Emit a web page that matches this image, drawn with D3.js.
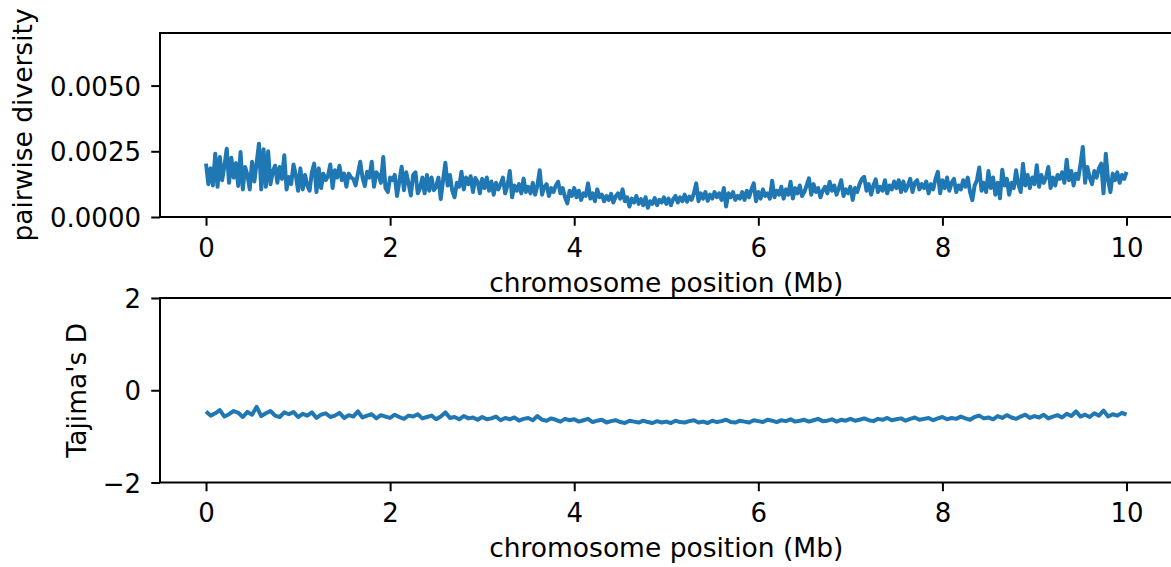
<!DOCTYPE html>
<html>
<head>
<meta charset="utf-8">
<script src="https://cdn.jsdelivr.net/npm/d3@7"></script>
<style>
  body { margin: 0; background: #fff; }
  text { font-family: "DejaVu Sans", sans-serif; }
</style>
</head>
<body>
<div id="chart"></div>
<script>
// pairwise diversity per window, 0.025 Mb apart
const piValues = [
  0.00203,0.00125,0.00185,0.00120,0.00241,0.00115,0.00228,0.00140,0.00195,0.00260,0.00130,0.00225,0.00150,0.00205,0.00118,0.00247,0.00105,0.00190,0.00160,0.00105,
  0.00210,0.00135,0.00205,0.00279,0.00105,0.00258,0.00115,0.00250,0.00125,0.00172,0.00195,0.00130,0.00190,0.00145,0.00235,0.00105,0.00152,0.00125,0.00200,0.00160,
  0.00100,0.00185,0.00105,0.00160,0.00120,0.00100,0.00170,0.00203,0.00095,0.00185,0.00110,0.00165,0.00140,0.00155,0.00200,0.00110,0.00178,0.00150,0.00195,0.00140,
  0.00165,0.00115,0.00165,0.00150,0.00145,0.00120,0.00165,0.00210,0.00150,0.00118,0.00172,0.00150,0.00210,0.00115,0.00170,0.00160,0.00130,0.00228,0.00110,0.00095,
  0.00150,0.00140,0.00160,0.00080,0.00135,0.00191,0.00102,0.00170,0.00128,0.00082,0.00160,0.00170,0.00090,0.00110,0.00150,0.00090,0.00160,0.00100,0.00150,0.00102,
  0.00115,0.00150,0.00068,0.00140,0.00206,0.00120,0.00160,0.00100,0.00075,0.00130,0.00115,0.00172,0.00105,0.00150,0.00125,0.00155,0.00095,0.00148,0.00135,0.00090,
  0.00145,0.00110,0.00150,0.00100,0.00135,0.00085,0.00130,0.00105,0.00125,0.00150,0.00090,0.00120,0.00175,0.00075,0.00120,0.00100,0.00125,0.00090,0.00146,0.00095,
  0.00115,0.00090,0.00130,0.00085,0.00120,0.00178,0.00085,0.00115,0.00125,0.00080,0.00110,0.00095,0.00120,0.00134,0.00090,0.00110,0.00075,0.00052,0.00100,0.00080,
  0.00110,0.00075,0.00100,0.00065,0.00090,0.00080,0.00128,0.00070,0.00090,0.00060,0.00105,0.00075,0.00085,0.00060,0.00080,0.00065,0.00088,0.00055,0.00078,0.00090,
  0.00070,0.00105,0.00060,0.00075,0.00040,0.00070,0.00055,0.00080,0.00050,0.00068,0.00045,0.00075,0.00035,0.00060,0.00050,0.00072,0.00045,0.00065,0.00055,0.00075,
  0.00050,0.00070,0.00045,0.00068,0.00080,0.00055,0.00075,0.00060,0.00085,0.00058,0.00078,0.00065,0.00090,0.00128,0.00060,0.00090,0.00070,0.00095,0.00062,0.00085,
  0.00070,0.00095,0.00075,0.00090,0.00065,0.00110,0.00040,0.00090,0.00075,0.00095,0.00065,0.00080,0.00070,0.00095,0.00065,0.00100,0.00075,0.00105,0.00128,0.00060,
  0.00095,0.00070,0.00105,0.00080,0.00090,0.00070,0.00138,0.00075,0.00100,0.00085,0.00115,0.00070,0.00105,0.00085,0.00134,0.00070,0.00110,0.00090,0.00120,0.00080,
  0.00095,0.00120,0.00147,0.00085,0.00125,0.00095,0.00110,0.00075,0.00100,0.00115,0.00090,0.00134,0.00100,0.00120,0.00085,0.00110,0.00140,0.00080,0.00105,0.00090,
  0.00115,0.00065,0.00110,0.00095,0.00125,0.00145,0.00153,0.00100,0.00125,0.00085,0.00120,0.00143,0.00095,0.00115,0.00100,0.00140,0.00090,0.00120,0.00105,0.00135,
  0.00110,0.00140,0.00095,0.00135,0.00100,0.00120,0.00145,0.00095,0.00130,0.00140,0.00105,0.00125,0.00110,0.00135,0.00090,0.00125,0.00105,0.00145,0.00172,0.00090,
  0.00140,0.00110,0.00150,0.00100,0.00130,0.00145,0.00095,0.00120,0.00105,0.00140,0.00115,0.00150,0.00095,0.00064,0.00120,0.00140,0.00188,0.00100,0.00130,0.00095,
  0.00175,0.00110,0.00150,0.00085,0.00130,0.00071,0.00180,0.00120,0.00145,0.00085,0.00130,0.00110,0.00178,0.00125,0.00095,0.00203,0.00120,0.00160,0.00110,0.00150,
  0.00125,0.00197,0.00115,0.00160,0.00130,0.00150,0.00190,0.00110,0.00150,0.00120,0.00160,0.00145,0.00170,0.00130,0.00218,0.00140,0.00175,0.00120,0.00165,0.00145,
  0.00200,0.00266,0.00130,0.00190,0.00150,0.00125,0.00175,0.00150,0.00185,0.00203,0.00090,0.00241,0.00140,0.00095,0.00165,0.00140,0.00170,0.00130,0.00160,0.00145,
  0.00172
];
const piStep = 0.025;

// Tajima's D per window, 0.05 Mb apart
const tajimaValues = [
  -0.46,-0.55,-0.50,-0.43,-0.57,-0.52,-0.45,-0.49,-0.58,-0.47,-0.53,-0.36,-0.56,-0.50,-0.45,-0.55,-0.58,-0.48,-0.52,-0.47,
  -0.58,-0.51,-0.55,-0.48,-0.60,-0.53,-0.50,-0.58,-0.55,-0.49,-0.60,-0.54,-0.57,-0.46,-0.59,-0.55,-0.52,-0.61,-0.54,-0.57,
  -0.60,-0.53,-0.58,-0.62,-0.55,-0.57,-0.52,-0.61,-0.58,-0.55,-0.63,-0.57,-0.48,-0.60,-0.58,-0.63,-0.56,-0.61,-0.59,-0.64,
  -0.58,-0.63,-0.61,-0.57,-0.65,-0.60,-0.63,-0.59,-0.66,-0.62,-0.60,-0.65,-0.56,-0.64,-0.66,-0.61,-0.64,-0.68,-0.62,-0.65,
  -0.63,-0.68,-0.65,-0.62,-0.69,-0.66,-0.64,-0.70,-0.67,-0.65,-0.69,-0.71,-0.66,-0.68,-0.70,-0.66,-0.69,-0.71,-0.67,-0.70,
  -0.68,-0.71,-0.66,-0.69,-0.70,-0.67,-0.65,-0.70,-0.68,-0.71,-0.66,-0.69,-0.67,-0.64,-0.69,-0.70,-0.66,-0.68,-0.70,-0.65,
  -0.67,-0.69,-0.64,-0.66,-0.69,-0.65,-0.67,-0.63,-0.68,-0.66,-0.64,-0.68,-0.65,-0.62,-0.67,-0.66,-0.63,-0.68,-0.64,-0.66,
  -0.62,-0.66,-0.64,-0.61,-0.65,-0.67,-0.62,-0.64,-0.60,-0.65,-0.63,-0.61,-0.66,-0.62,-0.59,-0.64,-0.62,-0.60,-0.65,-0.61,
  -0.58,-0.63,-0.60,-0.62,-0.57,-0.61,-0.64,-0.58,-0.55,-0.61,-0.59,-0.63,-0.56,-0.60,-0.54,-0.59,-0.62,-0.57,-0.53,-0.60,
  -0.56,-0.59,-0.53,-0.61,-0.57,-0.54,-0.59,-0.51,-0.56,-0.46,-0.57,-0.53,-0.58,-0.50,-0.55,-0.44,-0.57,-0.52,-0.55,-0.49,
  -0.53
];
const tajimaStep = 0.05;

const xTicks = [0, 2, 4, 6, 8, 10];
const piTicks = [0, 0.0025, 0.005];
const tajimaTicks = [-2, 0, 2];
const xLabel = 'chromosome position (Mb)';

const width = 1171, height = 567;
const lineColor = '#1f77b4';
const tickFont = 26, labelFont = 26.5;
const tickLen = 8.75, tickPad = 8.75;

const svg = d3.select('#chart')
  .append('svg')
  .attr('width', width)
  .attr('height', height);

// shared x scale, matplotlib style margins of 0.5 Mb each side
const x = d3.scaleLinear().domain([-0.5, 10.5]).range([160, 160 + 11 * 92.05]);

function drawPanel(cfg) {
  const { top, bottom, yDomain, yTicks, yFormat, values, step, yLabel, yLabelX } = cfg;
  const y = d3.scaleLinear().domain(yDomain).range([bottom, top]);
  const g = svg.append('g');

  // x axis
  const axisX = g.append('g')
    .attr('transform', `translate(0, ${bottom})`)
    .call(d3.axisBottom(x).tickValues(xTicks).tickFormat(d3.format('d'))
      .tickSize(tickLen).tickPadding(tickPad));
  axisX.select('.domain').remove();
  axisX.selectAll('line').attr('stroke', '#000').attr('stroke-width', 2);
  axisX.selectAll('text')
    .attr('dy', '0.86em')
    .attr('fill', '#000')
    .style('font-size', tickFont + 'px')
    .style('font-family', '"DejaVu Sans", sans-serif');

  // y axis
  const axisY = g.append('g')
    .attr('transform', `translate(${x.range()[0]}, 0)`)
    .call(d3.axisLeft(y).tickValues(yTicks).tickFormat(yFormat)
      .tickSize(tickLen).tickPadding(tickPad + 1.5));
  axisY.select('.domain').remove();
  axisY.selectAll('line').attr('stroke', '#000').attr('stroke-width', 2);
  axisY.selectAll('text')
    .attr('dy', '0.37em')
    .attr('fill', '#000')
    .style('font-size', tickFont + 'px')
    .style('font-family', '"DejaVu Sans", sans-serif');

  // the series line
  const line = d3.line()
    .x((d, i) => x(i * step))
    .y(d => y(d));
  g.append('path')
    .datum(values)
    .attr('d', line)
    .attr('fill', 'none')
    .attr('stroke', lineColor)
    .attr('stroke-width', 4)
    .attr('stroke-linejoin', 'round');

  // frame (right edge falls just past the canvas)
  g.append('rect')
    .attr('x', x.range()[0])
    .attr('y', top)
    .attr('width', x.range()[1] - x.range()[0])
    .attr('height', bottom - top)
    .attr('fill', 'none')
    .attr('stroke', '#000')
    .attr('stroke-width', 2);

  // labels
  g.append('text')
    .attr('x', (x.range()[0] + x.range()[1]) / 2)
    .attr('y', bottom + 74.5)
    .attr('text-anchor', 'middle')
    .style('font-size', labelFont + 'px')
    .text(xLabel);

  g.append('text')
    .attr('transform', `translate(${yLabelX}, ${(top + bottom) / 2}) rotate(-90)`)
    .attr('text-anchor', 'middle')
    .style('font-size', labelFont + 'px')
    .text(yLabel);
}

drawPanel({
  top: 33, bottom: 217,
  yDomain: [0, 0.007], yTicks: piTicks, yFormat: d3.format('.4f'),
  values: piValues, step: piStep,
  yLabel: 'pairwise diversity', yLabelX: 32
});

drawPanel({
  top: 298, bottom: 482.5,
  yDomain: [-2, 2], yTicks: tajimaTicks, yFormat: d3.format('d'),
  values: tajimaValues, step: tajimaStep,
  yLabel: "Tajima's D", yLabelX: 86
});
</script>
</body>
</html>
